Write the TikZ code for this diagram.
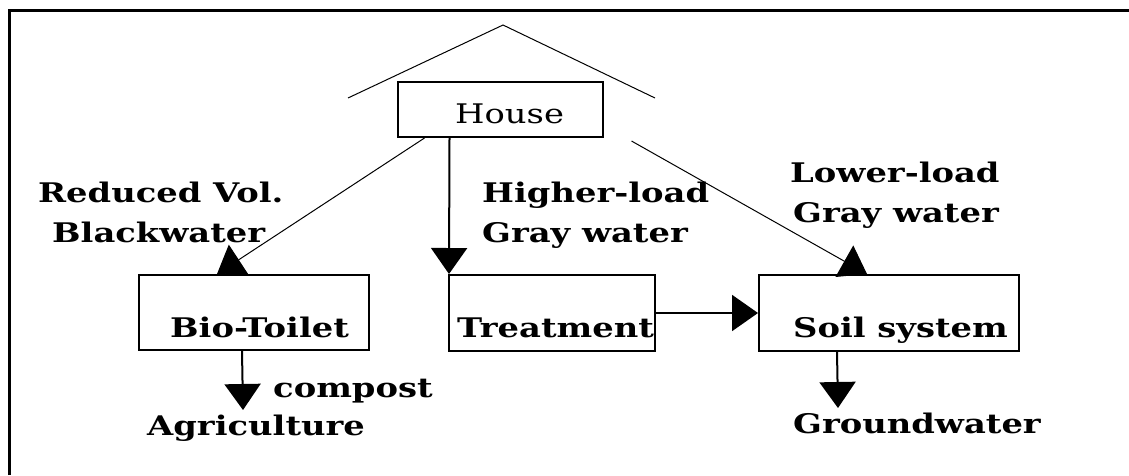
\documentclass[tikz,border=0pt]{standalone}
\usepackage{fontspec}
\setmainfont{DejaVu Serif}
\newfontfamily\labfont[FakeStretch=1.25]{DejaVu Serif}
\usetikzlibrary{arrows.meta,calc}
\begin{document}
\begin{tikzpicture}[x=1pt,y=-1pt,
  box/.style={draw,line width=2pt,inner sep=0pt},
  lab/.style={font=\labfont\bfseries\fontsize{27}{30}\selectfont,inner sep=0pt,anchor=base west},
  reglab/.style={font=\labfont\fontsize{27}{30}\selectfont,inner sep=0pt,anchor=base west},
  bigarrow/.style={line width=2pt,-{Triangle[width=36pt,length=26pt]}},
  thinarrow/.style={line width=1pt,-{Triangle[width=36pt,length=26pt]}},
  thinline/.style={line width=1pt}]
\useasboundingbox (0,0) rectangle (1129,475);
% outer frame (top and left edges only)
\draw[line width=3pt] (9,475) -- (9,10) -- (1129,10);
% roof
\coordinate (roofL) at (348,98);
\coordinate (roofT) at (503,25);
\coordinate (roofR) at (655,98);
\draw[thinline] (roofL) -- (roofT) -- (roofR);
% boxes
\node[box,minimum width=205pt,minimum height=55pt] (house) at (500,109.5) {};
\node[box,minimum width=230pt,minimum height=75pt] (bio) at (254,312.5) {};
\node[box,minimum width=206pt,minimum height=76pt] (treat) at (552,313) {};
\node[box,minimum width=260pt,minimum height=76pt] (soil) at (889,313) {};
% box texts
\node[reglab] (housetxt) at (455,123) {House};
\node[lab] (biotxt) at (170,337) {Bio-Toilet};
\node[lab] (treattxt) at (457,337) {Treatment};
\node[lab] (soiltxt) at (793,337) {Soil system};
% labels
\node[lab] (l1) at (38,202) {Reduced Vol.};
\node[lab] (l2) at (52,242) {Blackwater};
\node[lab] (l3) at (482,202) {Higher-load};
\node[lab] (l4) at (482,242) {Gray water};
\node[lab] (l5) at (790,182) {Lower-load};
\node[lab] (l6) at (793,222) {Gray water};
\node[lab] (compost) at (273,397) {compost};
\node[lab] (agri) at (147,435) {Agriculture};
\node[lab] (ground) at (793,433) {Groundwater};
% connectors
\coordinate (hsR) at ($(house.south east)+(28,3)$);
\coordinate (agritop) at (243,410);
\coordinate (groundtop) at (838,408);
\draw[thinarrow] ($(house.south west)+(28,0)$) -- ($(bio.north west)+(79,0)$);
\draw[bigarrow] ($(house.south west)+(53,0)$) -- ($(treat.north west)+(1,0)$);
\draw[thinarrow] (hsR) -- ($(soil.north west)+(109,0)$);
\draw[bigarrow] (treat.east) -- (soil.west);
\draw[bigarrow] ($(bio.south west)+(104,0)$) -- (agritop);
\draw[bigarrow] ($(soil.south west)+(79,0)$) -- (groundtop);
\end{tikzpicture}
\end{document}
